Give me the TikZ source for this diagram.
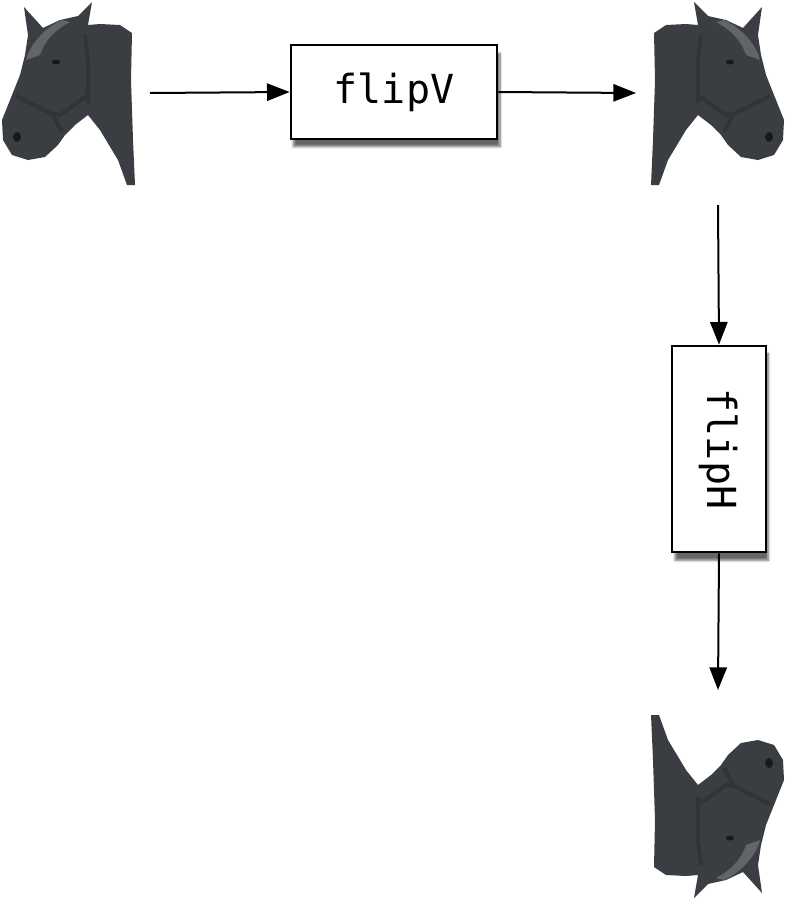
\documentclass[tikz,border=0pt]{standalone}
\usepackage{fontspec}
\setmonofont{DejaVu Sans Mono}
\usetikzlibrary{arrows.meta,shadows.blur}
\definecolor{horse}{HTML}{3A3E42}
\tikzset{
  box/.style={draw=black,line width=1.5pt,fill=white,minimum width=155pt,minimum height=70pt,font=\ttfamily\fontsize{30}{34}\selectfont,
    blur shadow={shadow xshift=2pt,shadow yshift=-6pt,shadow opacity=60,shadow blur steps=8}},
  arr/.style={line width=1.5pt,-{Triangle[length=17pt,width=13pt]}},
  horsebody/.style={fill=horse,draw=none},
  halter/.style={draw=black!80,line width=3pt,line join=round}
}
\newcommand\myhorse{%
  \fill[horsebody] (24,7) -- (43,28) -- (60,20) -- (78,16) -- (92,2) -- (88,25) -- (100,24) -- (120,25) -- (132,33)
    -- (131,80) -- (133,140) -- (135,185) -- (127,185) -- (118,160) -- (100,130) -- (88,115) -- (75,125) -- (65,135)
    -- (58,145) -- (45,157) -- (28,160) -- (12,155) -- (3,140) -- (2,120) -- (10,100) -- (20,75) -- (25,55) -- (28,35) -- cycle;
  \fill[horse!80!white] (62,20) .. controls (40,30) and (28,50) .. (26,60) -- (40,55) .. controls (45,40) and (55,30) .. (70,22) -- cycle;
  \draw[halter] (85,35) -- (88,60) -- (88,95) -- (60,115) -- (50,113) -- (16,96);
  \draw[halter] (88,95) -- (88,103);
  \draw[halter] (52,113) -- (62,132);
  \fill[black!90] (56,62) ellipse (4 and 2.5);
  \fill[black!90] (17,137) ellipse (4 and 5);
}
\begin{document}
\begin{tikzpicture}[x=0.75pt,y=-0.75pt]
\useasboundingbox (0,0) rectangle (806,900);
\begin{scope}[shift={(0,0)}] \myhorse \end{scope}
\begin{scope}[shift={(786,0)},xscale=-1] \myhorse \end{scope}
\begin{scope}[shift={(786,900)},xscale=-1,yscale=-1] \myhorse \end{scope}
\coordinate (h1) at (150,93);
\coordinate (h2a) at (636,93);
\coordinate (h2b) at (718,205);
\coordinate (h3) at (718,690);
\node[box] (fv) at (394,92) {flipV};
\node[box,rotate=-90] (fh) at (719,449) {flipH};
\draw[arr] (h1) -- (fv.west);
\draw[arr] (fv.east) -- (h2a);
\draw[arr] (h2b) -- (fh.west);
\draw[arr] (fh.east) -- (h3);
\end{tikzpicture}
\end{document}
